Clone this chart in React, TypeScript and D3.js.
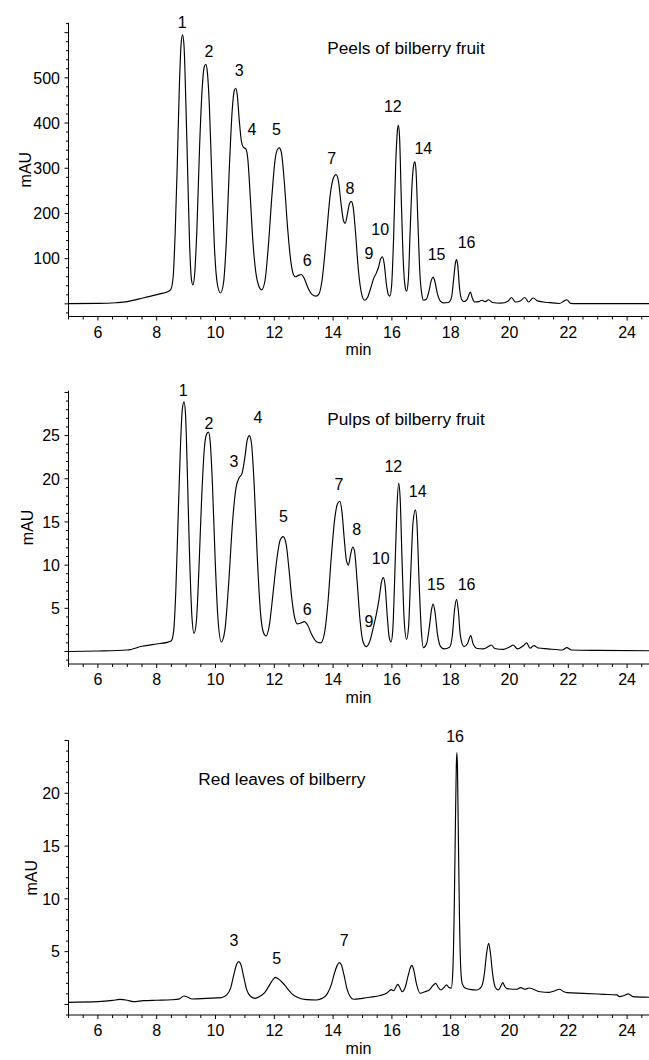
import React from "react";
import * as d3 from "d3";

// ---------- data ----------
const xTickLabels = [6, 8, 10, 12, 14, 16, 18, 20, 22, 24];

const peelsTrace: [number, number][] = [
  [5.0, 0.5],[6.0, 1.0],[6.6, 2.5],[7.0, 5],[7.4, 11],[7.8, 17],[8.1, 22],[8.35, 26],[8.48, 32],
  [8.56, 60],[8.63, 160],[8.70, 310],[8.77, 480],[8.83, 575],[8.88, 595],[8.93, 570],[8.99, 450],[9.05, 300],[9.12, 130],[9.18, 55],
  [9.23, 42],[9.29, 65],[9.37, 170],[9.46, 350],[9.55, 480],[9.62, 525],[9.67, 530],[9.72, 515],[9.79, 440],[9.87, 290],[9.96, 130],[10.06, 45],
  [10.17, 24],[10.27, 45],[10.37, 140],[10.47, 300],[10.57, 430],[10.64, 472],[10.69, 477],[10.74, 462],[10.81, 405],[10.88, 360],[10.95, 346],[11.03, 343],
  [11.10, 320],[11.18, 240],[11.27, 140],[11.37, 70],[11.47, 40],[11.57, 31],[11.68, 50],[11.80, 130],[11.92, 240],[12.03, 320],[12.11, 342],[12.17, 345],
  [12.24, 335],[12.34, 270],[12.45, 170],[12.56, 95],[12.65, 65],[12.72, 60],[12.82, 63],[12.92, 65],[13.02, 56],[13.14, 36],[13.28, 21],[13.42, 17],
  [13.52, 22],[13.63, 55],[13.76, 140],[13.90, 240],[14.02, 280],[14.10, 286],[14.18, 272],[14.27, 222],[14.35, 185],[14.41, 178],[14.49, 200],[14.56, 222],
  [14.62, 226],[14.68, 215],[14.76, 160],[14.86, 75],[14.97, 22],[15.07, 8],[15.17, 14],[15.28, 35],[15.39, 58],[15.47, 68],[15.55, 82],[15.62, 100],
  [15.68, 104],[15.74, 88],[15.81, 45],[15.88, 20],[15.93, 17],[15.99, 40],[16.06, 150],[16.13, 310],[16.19, 385],[16.22, 395],[16.26, 370],[16.32, 230],
  [16.39, 90],[16.45, 38],[16.50, 28],[16.56, 55],[16.62, 160],[16.69, 270],[16.75, 310],[16.78, 314],[16.82, 295],[16.88, 190],[16.95, 70],[17.02, 20],
  [17.08, 8],[17.17, 10],[17.26, 28],[17.34, 52],[17.40, 59],[17.46, 50],[17.55, 22],[17.65, 6],[17.76, 2],[17.92, 3],[18.03, 15],[18.10, 55],
  [18.16, 90],[18.20, 98],[18.24, 85],[18.30, 35],[18.37, 10],[18.45, 5],[18.56, 10],[18.67, 26],[18.74, 12],[18.82, 4],[18.95, 5],[19.07, 8],
  [19.17, 5],[19.29, 9],[19.42, 3],[19.70, 1.5],[19.95, 6],[20.07, 14],[20.20, 4],[20.38, 7],[20.52, 14],[20.65, 4],[20.80, 13],[20.97, 6],
  [21.3, 3],[21.7, 0.8],[21.85, 6],[21.95, 9],[22.08, 1],[22.3, 0.5],[25.0, 0.5],
];

const pulpsTrace: [number, number][] = [
  [5.0, 0.0],[6.0, 0.05],[7.0, 0.17],[7.5, 0.6],[8.0, 0.87],[8.35, 1.05],[8.5, 1.25],[8.58, 2.5],[8.65, 7],[8.72, 14.5],[8.80, 23],[8.87, 28],
  [8.93, 28.9],[8.98, 27.5],[9.04, 21],[9.11, 12],[9.19, 4.5],[9.27, 2.1],[9.35, 3.5],[9.43, 9],[9.52, 17],[9.62, 23.5],[9.70, 25.2],[9.76, 25.4],
  [9.82, 24.3],[9.90, 19],[9.99, 10.5],[10.08, 4],[10.20, 1.1],[10.32, 2.5],[10.45, 8],[10.58, 15],[10.70, 19],[10.80, 20.1],[10.90, 20.6],[11.00, 22.5],
  [11.08, 24.5],[11.15, 25.0],[11.22, 24.2],[11.32, 19],[11.42, 11],[11.53, 4.5],[11.63, 2.2],[11.72, 1.8],[11.83, 3],[11.95, 6.5],[12.08, 10.5],[12.20, 12.9],
  [12.30, 13.3],[12.40, 12.5],[12.50, 9.5],[12.60, 6],[12.70, 3.8],[12.78, 3.2],[12.90, 3.3],[13.02, 3.45],[13.14, 3.0],[13.28, 1.9],[13.45, 1.1],[13.58, 1.0],
  [13.70, 2.0],[13.82, 5.5],[13.94, 11],[14.06, 15.5],[14.15, 17.1],[14.23, 17.4],[14.30, 16.2],[14.38, 13],[14.45, 10.6],[14.52, 10.0],[14.60, 11.3],[14.67, 12.1],
  [14.73, 11.6],[14.82, 8],[14.92, 3.5],[15.02, 1.1],[15.13, 0.56],[15.25, 1.2],[15.37, 2.8],[15.47, 4.3],[15.56, 6],[15.65, 8.1],[15.71, 8.55],[15.77, 7.6],
  [15.84, 4.2],[15.91, 1.6],[15.97, 1.1],[16.03, 2.5],[16.10, 9],[16.17, 16.5],[16.23, 19.5],[16.28, 17.8],[16.35, 10],[16.42, 3.5],[16.50, 1.4],[16.57, 3],
  [16.64, 9],[16.72, 15],[16.80, 16.4],[16.85, 15],[16.92, 8.5],[17.00, 2.5],[17.07, 0.45],[17.18, 0.9],[17.28, 3],[17.35, 4.9],[17.40, 5.5],[17.46, 4.7],
  [17.55, 2],[17.65, 0.6],[17.78, 0.3],[17.96, 0.5],[18.06, 2],[18.13, 4.8],[18.20, 6.04],[18.26, 4.7],[18.33, 1.8],[18.45, 0.56],[18.57, 0.9],[18.68, 1.83],
  [18.77, 0.8],[18.9, 0.35],[19.1, 0.3],[19.3, 0.6],[19.38, 0.75],[19.5, 0.35],[19.8, 0.25],[20.02, 0.55],[20.12, 0.75],[20.27, 0.3],[20.48, 0.7],[20.58, 1.0],
  [20.70, 0.37],[20.83, 0.68],[20.98, 0.4],[21.3, 0.3],[21.8, 0.17],[21.95, 0.45],[22.1, 0.17],[23.0, 0.12],[25.0, 0.08],
];

const leavesTrace: [number, number][] = [
  [5.0, 0.2],[6.0, 0.26],[6.5, 0.38],[6.75, 0.48],[7.0, 0.4],[7.2, 0.27],[7.55, 0.36],[8.0, 0.4],[8.5, 0.44],[8.75, 0.5],[8.93, 0.8],[9.05, 0.7],
  [9.2, 0.52],[9.7, 0.58],[10.2, 0.64],[10.38, 0.9],[10.52, 1.6],[10.63, 2.9],[10.72, 3.8],[10.79, 4.05],[10.86, 3.8],[10.96, 2.6],[11.06, 1.4],[11.18, 0.8],
  [11.34, 0.58],[11.50, 0.75],[11.68, 1.15],[11.85, 1.9],[11.98, 2.45],[12.04, 2.57],[12.12, 2.45],[12.25, 2.15],[12.42, 1.6],[12.6, 1.0],[12.8, 0.65],[13.1, 0.45],
  [13.44, 0.42],[13.65, 0.6],[13.80, 1.0],[13.93, 1.8],[14.05, 3.0],[14.14, 3.7],[14.21, 3.96],[14.28, 3.75],[14.37, 2.8],[14.47, 1.5],[14.58, 0.75],[14.69, 0.49],
  [15.0, 0.58],[15.25, 0.68],[15.6, 0.85],[15.82, 1.06],[15.98, 1.4],[16.06, 1.3],[16.13, 1.6],[16.20, 1.9],[16.27, 1.6],[16.35, 1.2],[16.45, 1.6],[16.55, 2.7],
  [16.63, 3.5],[16.68, 3.7],[16.74, 3.3],[16.84, 1.9],[16.96, 1.06],[17.12, 1.2],[17.27, 1.37],[17.40, 1.8],[17.49, 2.0],[17.58, 1.6],[17.67, 1.37],[17.77, 1.6],
  [17.86, 1.85],[17.94, 1.6],[18.02, 1.55],[18.07, 3],[18.12, 9],[18.16, 17],[18.19, 22.5],[18.21, 23.85],[18.23, 22.5],[18.26, 16],[18.30, 8],[18.34, 3.5],
  [18.39, 2.0],[18.49, 1.55],[18.7, 1.4],[18.88, 1.37],[19.05, 1.7],[19.14, 2.8],[19.22, 4.8],[19.29, 5.8],[19.35, 4.9],[19.43, 2.8],[19.52, 1.6],[19.62, 1.37],
  [19.70, 1.7],[19.77, 2.07],[19.84, 1.7],[19.92, 1.5],[20.24, 1.44],[20.38, 1.6],[20.53, 1.44],[20.67, 1.56],[21.04, 1.2],[21.35, 1.15],[21.55, 1.3],[21.7, 1.44],
  [21.85, 1.2],[21.95, 1.12],[22.5, 1.05],[23.19, 0.96],[23.65, 0.9],[23.74, 0.74],[23.9, 0.85],[24.04, 1.0],[24.2, 0.74],[24.75, 0.68],[25.0, 0.66],
];

// peak labels: [label, time, mAU] (label centre in data units)
const peelsPeaks: [string, number, number][] = [
  ["1", 8.87, 624], ["2", 9.78, 558], ["3", 10.81, 516], ["4", 11.24, 386], ["5", 12.07, 386],
  ["6", 13.12, 96], ["7", 13.95, 322], ["8", 14.57, 255], ["9", 15.22, 111], ["10", 15.6, 164],
  ["12", 16.03, 437], ["14", 17.07, 345], ["15", 17.52, 109], ["16", 18.54, 137],
];
const pulpsPeaks: [string, number, number][] = [
  ["1", 8.9, 30.3], ["2", 9.78, 26.44], ["3", 10.63, 22.07], ["4", 11.44, 27.14], ["5", 12.31, 15.7],
  ["6", 13.12, 4.92], ["7", 14.2, 19.41], ["8", 14.8, 14.19], ["9", 15.22, 3.53], ["10", 15.62, 10.8],
  ["12", 16.05, 21.41], ["14", 16.88, 18.52], ["15", 17.5, 7.82], ["16", 18.54, 7.82],
];
const leavesPeaks: [string, number, number][] = [
  ["3", 10.63, 6.11], ["5", 12.08, 4.38], ["7", 14.38, 6.11], ["16", 18.15, 25.36],
];

const peelsYLabels = [100, 200, 300, 400, 500];
const pulpsYLabels = [5, 10, 15, 20, 25];
const leavesYLabels = [5, 10, 15, 20];

const titles = ["Peels of bilberry fruit", "Pulps of bilberry fruit", "Red leaves of bilberry"];

// ---------- layout ----------
const W = 649;
const H = 1060;
const FONT = "'Liberation Sans', Arial, Helvetica, sans-serif";
const X0 = 68.5;
const PX_PER_MIN = 29.4;
const x = d3.scaleLinear().domain([5, 25]).range([X0, X0 + 20 * PX_PER_MIN]);

type PanelCfg = {
  trace: [number, number][];
  peaks: [string, number, number][];
  yLabels: number[];
  yDomain: [number, number];
  top: number;
  bottom: number;
  major: number;
  minor: number;
  title: string;
  titleAt: [number, number];
  mauX: number;
};

const panels: PanelCfg[] = [
  {
    trace: peelsTrace, peaks: peelsPeaks, yLabels: peelsYLabels,
    yDomain: [-28, 622], top: 22.7, bottom: 316.5, major: 100, minor: 20,
    title: titles[0], titleAt: [13.8, 552], mauX: 31,
  },
  {
    trace: pulpsTrace, peaks: pulpsPeaks, yLabels: pulpsYLabels,
    yDomain: [-1.45, 30.2], top: 390.7, bottom: 664, major: 5, minor: 1,
    title: titles[1], titleAt: [13.8, 26.19], mauX: 33.3,
  },
  {
    trace: leavesTrace, peaks: leavesPeaks, yLabels: leavesYLabels,
    yDomain: [-1, 25], top: 740.5, bottom: 1015, major: 5, minor: 1,
    title: titles[2], titleAt: [9.415, 20.8], mauX: 36.7,
  },
];

function Panel({ cfg }: { cfg: PanelCfg }) {
  const y = d3.scaleLinear().domain(cfg.yDomain).range([cfg.bottom, cfg.top]);
  const line = d3
    .line<[number, number]>()
    .x((d) => x(d[0]))
    .y((d) => y(d[1]))
    .curve(d3.curveMonotoneX);

  const minorStart = Math.ceil(cfg.yDomain[0] / cfg.minor);
  const minorEnd = Math.floor(cfg.yDomain[1] / cfg.minor + 1e-6);
  const yMinor = d3.range(minorStart, minorEnd + 1).map((k) => k * cfg.minor);
  const xMinor = d3.range(0, 41).map((k) => 5 + k * 0.5);

  return (
    <g>
      <line x1={X0} x2={W} y1={cfg.bottom} y2={cfg.bottom} stroke="#000" strokeWidth={1} />
      <line x1={X0} x2={X0} y1={cfg.top} y2={cfg.bottom} stroke="#000" strokeWidth={1} />
      {yMinor.map((v) => {
        const isMajor = Math.abs(v / cfg.major - Math.round(v / cfg.major)) < 1e-6;
        return (
          <line key={"yt" + v} x1={X0 - (isMajor ? 4 : 2.5)} x2={X0} y1={y(v)} y2={y(v)} stroke="#000" strokeWidth={1} />
        );
      })}
      {cfg.yLabels.map((v) => (
        <text key={"yl" + v} x={X0 - 8.5} y={y(v)} dy="0.36em" textAnchor="end" fontSize={16} fontFamily={FONT} fill="#000">
          {v}
        </text>
      ))}
      {xMinor.map((t) => {
        const isMajor = Math.abs(t - Math.round(t)) < 1e-6 && Math.round(t) % 2 === 0;
        return (
          <line key={"xt" + t} x1={x(t)} x2={x(t)} y1={cfg.bottom} y2={cfg.bottom + (isMajor ? 4 : 3)} stroke="#000" strokeWidth={1} />
        );
      })}
      {xTickLabels.map((t) => (
        <text key={"xl" + t} x={x(t)} y={cfg.bottom + 21} textAnchor="middle" fontSize={16} fontFamily={FONT} fill="#000">
          {t}
        </text>
      ))}
      <text x={358.5} y={cfg.bottom + 38.5} textAnchor="middle" fontSize={16} fontFamily={FONT} fill="#000">
        min
      </text>
      <text
        transform={`translate(${cfg.mauX},${(cfg.top + cfg.bottom) / 2}) rotate(-90)`}
        textAnchor="middle" fontSize={16} fontFamily={FONT} fill="#000"
      >
        mAU
      </text>
      <path d={line(cfg.trace) || ""} fill="none" stroke="#000" strokeWidth={1.15} strokeLinejoin="round" />
      {cfg.peaks.map(([lab, t, v]) => (
        <text key={"p" + lab} x={x(t)} y={y(v)} dy="0.36em" textAnchor="middle" fontSize={16} fontFamily={FONT} fill="#000">
          {lab}
        </text>
      ))}
      <text x={x(cfg.titleAt[0])} y={y(cfg.titleAt[1])} textAnchor="start" fontSize={17.3} fontFamily={FONT} fill="#000">
        {cfg.title}
      </text>
    </g>
  );
}

export default function App() {
  return (
    <svg
      width={W}
      height={H}
      viewBox={`0 0 ${W} ${H}`}
      style={{ position: "absolute", left: 0, top: 0, background: "#fff" }}
    >
      <rect x={0} y={0} width={W} height={H} fill="#fff" />
      {panels.map((p, i) => (
        <Panel key={i} cfg={p} />
      ))}
    </svg>
  );
}
